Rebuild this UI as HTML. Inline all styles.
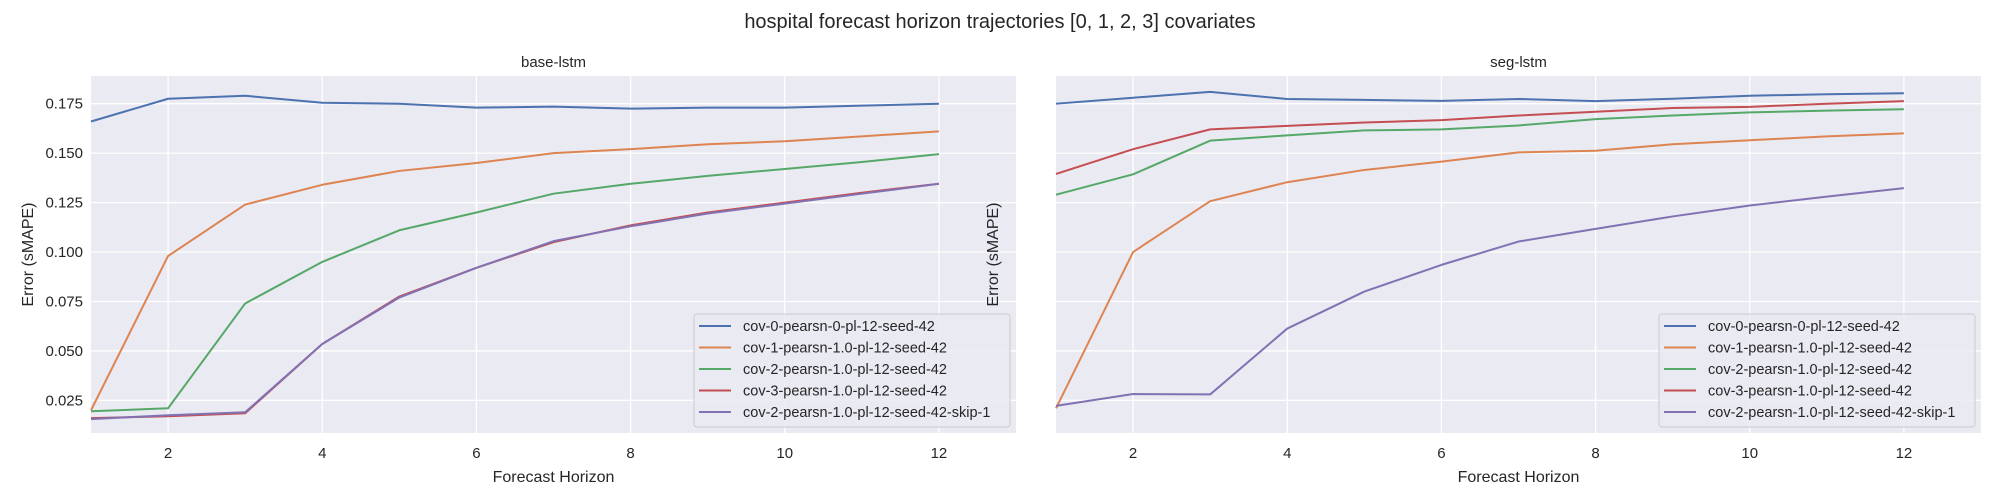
<!DOCTYPE html>
<html><head><meta charset="utf-8"><style>
body{margin:0;background:#fff;}
svg{display:block;font-family:"Liberation Sans","DejaVu Sans",sans-serif;}
</style></head><body>
<svg id="c" width="2000" height="500" xmlns="http://www.w3.org/2000/svg"></svg>
<script>
const xValues=[1,2,3,4,5,6,7,8,9,10,11,12];
const seriesNames=["cov-0-pearsn-0-pl-12-seed-42","cov-1-pearsn-1.0-pl-12-seed-42","cov-2-pearsn-1.0-pl-12-seed-42","cov-3-pearsn-1.0-pl-12-seed-42","cov-2-pearsn-1.0-pl-12-seed-42-skip-1"];
const baseCov0=[0.166,0.1775,0.179,0.1755,0.175,0.173,0.1735,0.1725,0.173,0.173,0.174,0.175];
const baseCov1=[0.020,0.098,0.124,0.134,0.141,0.145,0.150,0.152,0.1545,0.156,0.1585,0.161];
const baseCov2=[0.0195,0.021,0.074,0.095,0.111,0.120,0.1295,0.1345,0.1385,0.142,0.1455,0.1495];
const baseCov3=[0.016,0.017,0.0185,0.0535,0.0775,0.092,0.105,0.1135,0.120,0.125,0.130,0.1345];
const baseSkip=[0.0155,0.0175,0.019,0.0535,0.077,0.092,0.1055,0.113,0.1195,0.1245,0.1295,0.1345];
const segCov0=[0.175,0.178,0.181,0.1774,0.1769,0.1764,0.1774,0.1763,0.1775,0.179,0.1798,0.1803];
const segCov1=[0.021,0.100,0.1257,0.1353,0.1415,0.1457,0.1504,0.1512,0.1545,0.1565,0.1585,0.160];
const segCov2=[0.129,0.1393,0.1563,0.159,0.1615,0.162,0.164,0.1672,0.169,0.1706,0.1715,0.1722];
const segCov3=[0.1395,0.152,0.162,0.1638,0.1655,0.1667,0.169,0.1709,0.1728,0.1734,0.175,0.1763];
const segSkip=[0.0222,0.0282,0.028,0.0613,0.080,0.0935,0.1053,0.1117,0.118,0.1235,0.128,0.1323];
const yTicks=[0.025,0.050,0.075,0.100,0.125,0.150,0.175];
const xTicks=[2,4,6,8,10,12];
const colors=["#4c72b0","#dd8452","#55a868","#c44e52","#8172b3"];
const NS="http://www.w3.org/2000/svg";
const svg=document.getElementById('c');
function mk(tag,attrs,parent,text){const e=document.createElementNS(NS,tag);for(const k in attrs)e.setAttribute(k,attrs[k]);if(text!==undefined)e.textContent=text;(parent||svg).appendChild(e);return e;}
const Y0=76,Y1=433,yMin=0.0085,yMax=0.189;
function yS(v){return Y1-(v-yMin)/(yMax-yMin)*(Y1-Y0);}
let t=mk('text',{x:1000,y:28,'text-anchor':'middle','font-size':20,fill:'#262626'},svg,'hospital forecast horizon trajectories [0, 1, 2, 3] covariates');

function panel(x0,x1,title,data,showY,key){
  const g=mk('g',{});
  
  const xS=v=>x0+(v-1)/12*(x1-x0);
  const bg=mk('rect',{x:x0,y:Y0,width:x1-x0,height:Y1-Y0,fill:'#eaeaf2'},g);
  
  yTicks.forEach(v=>{const l=mk('line',{x1:x0,x2:x1,y1:yS(v),y2:yS(v),stroke:'#fff','stroke-width':1.3},g);
    
    if(showY){const tt=mk('text',{x:x0-8,y:yS(v)+5,'text-anchor':'end','font-size':15,fill:'#262626'},g,v.toFixed(3));
      }});
  xTicks.forEach(v=>{const l=mk('line',{x1:xS(v),x2:xS(v),y1:Y0,y2:Y1,stroke:'#fff','stroke-width':1.3},g);
    
    const tt=mk('text',{x:xS(v),y:458,'text-anchor':'middle','font-size':15,fill:'#262626'},g,String(v));
    });
  data.forEach((arr,i)=>{const p=mk('polyline',{points:arr.map((v,j)=>xS(xValues[j])+','+yS(v)).join(' '),fill:'none',stroke:colors[i],'stroke-width':2,'stroke-linejoin':'round'},g);
    });
  const tl=mk('text',{x:(x0+x1)/2,y:67,'text-anchor':'middle','font-size':15,fill:'#262626'},g,title);
  
  const xl=mk('text',{x:(x0+x1)/2,y:482,'text-anchor':'middle','font-size':16,fill:'#262626'},g,'Forecast Horizon');
  
  const yl=mk('text',{x:0,y:0,'text-anchor':'middle','font-size':16,fill:'#262626',transform:'translate('+(x0-58)+','+((Y0+Y1)/2)+') rotate(-90)'},g,'Error (sMAPE)');
  
  const lx=x1-322,ly=314;
  const lg=mk('g',{},g);
  
  mk('rect',{x:lx,y:ly,width:316,height:113,rx:3,fill:'#eaeaf2','fill-opacity':0.85,stroke:'#cccccc'},lg);
  seriesNames.forEach((n,i)=>{const yy=ly+12+i*21.5;
    const e=mk('g',{},lg);
    
    mk('line',{x1:lx+5,x2:lx+37,y1:yy,y2:yy,stroke:colors[i],'stroke-width':2},e);
    mk('text',{x:lx+49,y:yy+5,'font-size':14.5,fill:'#262626'},e,n);});
}
panel(91,1016,'base-lstm',[baseCov0,baseCov1,baseCov2,baseCov3,baseSkip],true,'base-lstm');
panel(1056,1981,'seg-lstm',[segCov0,segCov1,segCov2,segCov3,segSkip],false,'seg-lstm');
</script>
</body></html>
